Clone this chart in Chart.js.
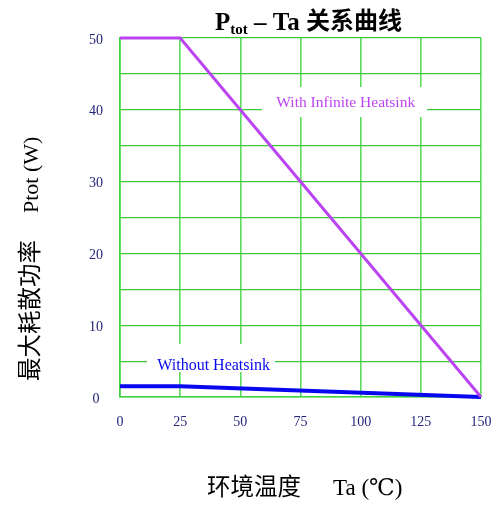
<!DOCTYPE html>
<html>
<head>
<meta charset="utf-8">
<script src="https://cdn.jsdelivr.net/npm/chart.js@4/dist/chart.umd.min.js"></script>
<style>
html,body{margin:0;padding:0;background:#fff;}
canvas{display:block;}
</style>
</head>
<body>
<canvas id="c" width="495" height="506"></canvas>
<script>
// ---- data ----
const xTemps = [0, 25, 150];
const withInfiniteHeatsink = [50, 50, 0];
const withoutHeatsink = [1.5, 1.5, 0];
const seriesNames = ['With Infinite Heatsink', 'Without Heatsink'];
const titleParts = ['P', 'tot', ' \u2013 Ta ', '关系曲线'];
const yTitleParts = ['最大耗散功率', 'Ptot (W)'];
const xTitleParts = ['环境温度', 'Ta (\u2103)'];

const SERIF = '"Liberation Serif", "DejaVu Serif", serif';
const CJK = '"Noto Sans CJK SC", sans-serif';
const TICK = '#24247a';
const PURPLE = '#bb44f2';
const BLUE = '#0808ee';

const textPlugin = {
  id: 'texts',
  beforeDatasetsDraw(chart) {
    const ctx = chart.ctx;
    const xs = chart.scales.x, ys = chart.scales.y;
    ctx.save();
    const lab = [
      {t: seriesNames[0], c: PURPLE, size: 15.5, x: xs.getPixelForValue(93.8), y: ys.getPixelForValue(40.9), bx: 262, by: 87, bw: 165, bh: 30},
      {t: seriesNames[1], c: BLUE, size: 16, x: xs.getPixelForValue(38.9), y: ys.getPixelForValue(4.3), bx: 147, by: 344, bw: 128, bh: 28}
    ];
    lab.forEach(l => {
      ctx.fillStyle = '#fff';
      ctx.fillRect(l.bx, l.by, l.bw, l.bh);
      ctx.fillStyle = l.c;
      ctx.font = l.size + 'px ' + SERIF;
      ctx.textAlign = 'center';
      ctx.textBaseline = 'middle';
      ctx.fillText(l.t, l.x, l.y);
    });
    ctx.restore();
  },
  afterDraw(chart) {
    const ctx = chart.ctx;
    ctx.save();
    ctx.fillStyle = '#000';
    ctx.textBaseline = 'alphabetic';
    ctx.textAlign = 'left';
    // title
    let x = 215, base = 30;
    ctx.font = 'bold 25px ' + SERIF;
    ctx.fillText(titleParts[0], x, base);
    x += ctx.measureText(titleParts[0]).width;
    ctx.font = 'bold 15px ' + SERIF;
    ctx.fillText(titleParts[1], x, base + 4);
    x += ctx.measureText(titleParts[1]).width;
    ctx.font = 'bold 25px ' + SERIF;
    ctx.fillText(titleParts[2], x, base);
    x += ctx.measureText(titleParts[2]).width;
    ctx.font = 'bold 24px ' + CJK;
    ctx.fillText(titleParts[3], x, base - 1);

    // y title
    ctx.save();
    ctx.translate(38, 381);
    ctx.rotate(-Math.PI / 2);
    ctx.font = '23.5px ' + CJK;
    ctx.fillText(yTitleParts[0], 0, 0);
    ctx.font = '22px ' + SERIF;
    ctx.fillText(yTitleParts[1], 168, 0);
    ctx.restore();

    // x title
    ctx.font = '23.5px ' + CJK;
    ctx.fillText(xTitleParts[0], 207, 495);
    ctx.font = '23px ' + SERIF;
    ctx.fillText(xTitleParts[1], 333, 495);
    ctx.restore();
  }
};

new Chart(document.getElementById('c'), {
  type: 'line',
  data: {
    datasets: [
      {label: seriesNames[0], data: xTemps.map((t, i) => ({x: t, y: withInfiniteHeatsink[i]})), borderColor: PURPLE, borderWidth: 3, pointRadius: 0, fill: false, tension: 0, clip: false},
      {label: seriesNames[1], data: xTemps.map((t, i) => ({x: t, y: withoutHeatsink[i]})), borderColor: BLUE, borderWidth: 4, pointRadius: 0, fill: false, tension: 0, clip: false}
    ]
  },
  options: {
    responsive: false,
    animation: false,
    devicePixelRatio: 1,
    layout: {padding: {top: 38, right: 14, left: 0, bottom: 0}},
    plugins: {legend: {display: false}, tooltip: {enabled: false}, title: {display: false}},
    scales: {
      x: {
        type: 'linear', min: 0, max: 150,
        afterFit(s) { s.height = 109; s.paddingLeft = 0; s.paddingRight = 0; s.paddingTop = 0; s.paddingBottom = 0; },
        ticks: {stepSize: 25, color: TICK, font: {family: SERIF, size: 14}, padding: 17, maxRotation: 0, autoSkip: false},
        grid: {color: '#5cdc5c', lineWidth: 1.6, drawTicks: false},
        border: {color: '#3fd43f', width: 1.6}
      },
      y: {
        type: 'linear', min: 0, max: 50,
        afterFit(s) { s.width = 120; s.paddingLeft = 0; s.paddingRight = 0; s.paddingTop = 0; s.paddingBottom = 0; },
        ticks: {stepSize: 5, color: TICK, font: {family: SERIF, size: 14}, padding: 17, crossAlign: 'center', labelOffset: 2,
          callback: v => (v % 10 === 0 ? String(v) : '')},
        grid: {color: '#3cc83c', lineWidth: 1.2, drawTicks: false},
        border: {color: '#3fd43f', width: 1.6}
      }
    }
  },
  plugins: [textPlugin]
});
</script>
</body>
</html>
